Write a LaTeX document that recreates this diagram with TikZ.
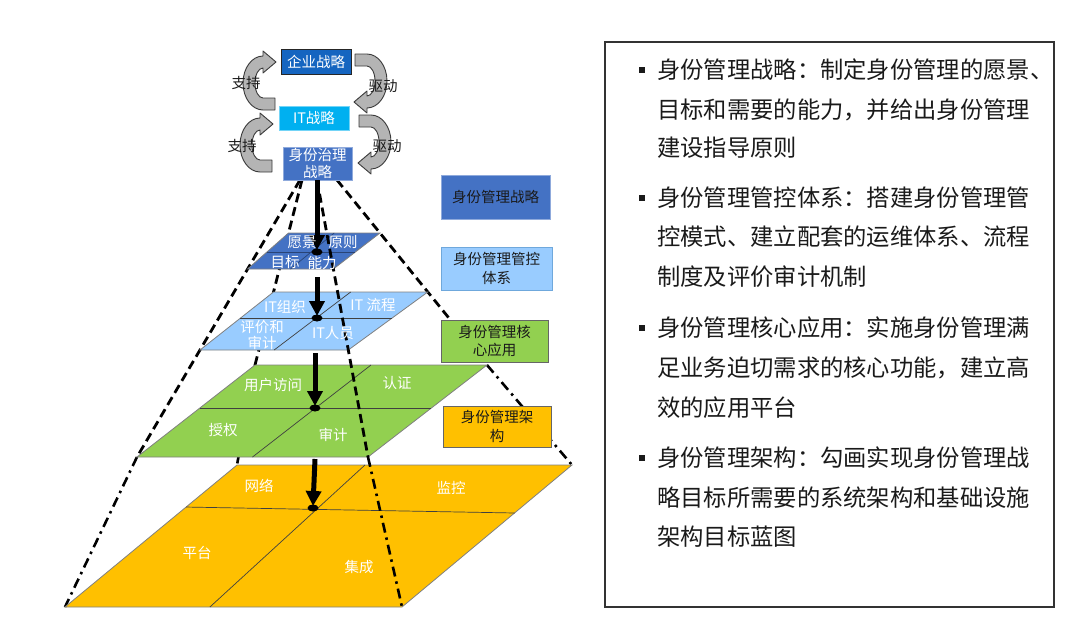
\documentclass[tikz,border=0pt]{standalone}
\usepackage{fontspec}
\setmainfont{Noto Sans CJK SC}
\usetikzlibrary{arrows.meta,calc}
\definecolor{entblue}{HTML}{1565C0}
\definecolor{itcyan}{HTML}{00B0F0}
\definecolor{idblue}{HTML}{4472C4}
\definecolor{idborder}{HTML}{8FAADC}
\definecolor{lightlayer}{HTML}{99CCFF}
\definecolor{lightborder}{HTML}{6FA8DC}
\definecolor{greenlayer}{HTML}{92D050}
\definecolor{yellowlayer}{HTML}{FFC000}
\definecolor{arrowgray}{HTML}{B4B4B4}
\definecolor{arrowedge}{HTML}{3A3A3A}
\definecolor{textdark}{HTML}{1A1A1A}
\begin{document}
\begin{tikzpicture}[x=1pt,y=-1pt,
  every node/.style={inner sep=0pt},
  lbl/.style={font=\fontsize{14.5}{16.5}\selectfont, text=white, align=center},
  topbox/.style={minimum width=70pt, minimum height=25pt, font=\fontsize{14.5}{17}\selectfont, text=white, align=center, line width=0.8pt},
  legendbox/.style={minimum width=109pt, minimum height=43pt, font=\fontsize{14.5}{18.5}\selectfont, text=textdark, align=center, line width=0.8pt},
  layer/.style={draw=black!50, line width=0.8pt},
  divider/.style={draw=black!75, line width=0.7pt},
  edgedash/.style={line width=2.8pt, dash pattern=on 9pt off 5pt},
  edgedashdot/.style={line width=2.6pt, dash pattern=on 10pt off 5pt on 2.5pt off 5pt},
  bigarrow/.style={line width=5pt, -{Triangle[length=15pt,width=15pt]}},
  curvefill/.style={fill=arrowgray, draw=arrowedge, line width=0.9pt, line join=round},
  sidelbl/.style={font=\fontsize{14.5}{17}\selectfont, text=textdark},
  bodyline/.style={font=\fontsize{23.3}{28}\selectfont, text=textdark, anchor=base west},
  bulletsq/.style={fill=textdark, minimum size=5.5pt},
  curvedarrow/.pic={
    \path[curvefill] (12,27) -- (0,27) .. controls (-11,27) and (-20,15) .. (-20,0)
      .. controls (-20,-15) and (-11,-27) .. (0,-27) -- (0,-32) -- (13,-21) -- (0,-10) -- (0,-15)
      .. controls (-4.4,-15) and (-8,-8.3) .. (-8,0) .. controls (-8,8.3) and (-4.4,15) .. (0,15)
      -- (12,15) -- cycle;
  }
]
\useasboundingbox (0,0) rectangle (1080,622);

% ---------- key points ----------
\coordinate (a1) at (300,180);
\coordinate (a2) at (302,180);
\coordinate (a3) at (317,180);
\coordinate (a4) at (337,180);
% dark blue layer
\coordinate (d1) at (288.5,233); \coordinate (d2) at (380,233);
\coordinate (d3) at (333.4,269); \coordinate (d4) at (247.6,269);
% light blue layer
\coordinate (l1) at (273.5,292); \coordinate (l2) at (427.8,292);
\coordinate (l3) at (348.3,350); \coordinate (l4) at (200,350);
% green layer
\coordinate (g1) at (255,365); \coordinate (g2) at (487,365);
\coordinate (g3) at (368,457); \coordinate (g4) at (137,457);
% yellow layer
\coordinate (y1) at (237,465); \coordinate (y2) at (572,465);
\coordinate (y3) at (402,607); \coordinate (y4) at (65,607);
% layer centres
\coordinate (c1) at (317,252);
\coordinate (c2) at (317,318);
\coordinate (c3) at (315,408);
\coordinate (c4) at (313,508);

% ---------- back edges ----------
\draw[edgedash] (a2) -- (g1);
\draw[edgedashdot] (g1) -- (y1);
\draw[edgedash] (a1) -- (g4);
\draw[edgedashdot] (g4) -- (y4);
\draw[edgedash] (a4) -- (g2);
\draw[edgedashdot] (g2) -- (y2);

% ---------- layers ----------
\filldraw[layer, fill=yellowlayer] (y1) -- (y2) -- (y3) -- (y4) -- cycle;
\draw[divider] ($(y1)!0.296!(y4)$) -- ($(y2)!0.338!(y3)$);
\draw[divider] ($(y1)!0.382!(y2)$) -- ($(y4)!0.43!(y3)$);

\filldraw[layer, fill=greenlayer] (g1) -- (g2) -- (g3) -- (g4) -- cycle;
\draw[divider] ($(g1)!0.467!(g4)$) -- ($(g2)!0.467!(g3)$);
\draw[divider] ($(g1)!0.5!(g2)$) -- ($(g4)!0.5!(g3)$);

\filldraw[layer, fill=lightlayer] (l1) -- (l2) -- (l3) -- (l4) -- cycle;
\draw[divider] ($(l1)!0.45!(l4)$) -- ($(l2)!0.45!(l3)$);
\draw[divider] ($(l1)!0.5!(l2)$) -- ($(l4)!0.5!(l3)$);

\filldraw[layer, fill=idblue] (d1) -- (d2) -- (d3) -- (d4) -- cycle;
\draw[divider, draw=idblue!60!black] ($(d1)!0.53!(d4)$) -- ($(d2)!0.53!(d3)$);
\draw[divider, draw=idblue!60!black] ($(d1)!0.5!(d2)$) -- ($(d4)!0.5!(d3)$);

% ---------- front edges ----------
\draw[edgedash] (a3) -- (g3);
\draw[edgedashdot] (g3) -- (y3);

% ---------- legend boxes ----------
\node[legendbox, fill=idblue, draw=idborder, minimum height=44pt] (lg1) at (495.5,197) {身份管理战略};
\node[legendbox, fill=lightlayer, draw=lightborder, minimum width=111pt] (lg2) at (496.5,268.5) {身份管理管控\\体系};
\node[legendbox, fill=greenlayer, draw=black!60, minimum width=107pt, minimum height=42pt] (lg3) at (494.5,341) {身份管理核\\心应用};
\node[legendbox, fill=yellowlayer, draw=black!60, minimum width=108pt, minimum height=41pt] (lg4) at (497,426.5) {身份管理架\\构};

% ---------- top strategy chain ----------
\pic at (263,83) {curvedarrow};
\pic at (260,145) {curvedarrow};
\pic[rotate=180] at (367,81) {curvedarrow};
\pic[rotate=180] at (371,142) {curvedarrow};

\node[topbox, fill=entblue, draw=black!85] (ent) at (316,61.5) {企业战略};
\node[topbox, fill=itcyan, draw=itcyan!55!white, minimum height=24pt] (itb) at (314,118) {IT战略};
\node[topbox, fill=idblue, draw=idborder, minimum width=69pt, minimum height=33pt] (idg) at (317.5,163.5) {身份治理\\战略};

\node[sidelbl] (zc1) at (246,83) {支持};
\node[sidelbl] (zc2) at (242,146) {支持};
\node[sidelbl] (qd1) at (383,86) {驱动};
\node[sidelbl] (qd2) at (387,146) {驱动};

% ---------- vertical arrows ----------
\coordinate (s2) at (317,277);
\coordinate (s3) at (315,353);
\coordinate (s4) at (315,459);
\draw[bigarrow] (idg.south -| c1) -- ($(c1)+(0,-2)$);
\draw[bigarrow] (s2) -- ($(c2)+(0,-2)$);
\draw[bigarrow] (s3) -- ($(c3)+(0,-2)$);
\draw[bigarrow] (s4) -- ($(c4)+(0,-2)$);
\fill (c1) ellipse [x radius=5.5, y radius=3.5];
\fill (c2) ellipse [x radius=5.5, y radius=3.5];
\fill (c3) ellipse [x radius=5.5, y radius=3.5];
\fill (c4) ellipse [x radius=5.5, y radius=3.5];

% ---------- layer labels ----------
\node[lbl] (t11) at (302,242) {愿景};
\node[lbl] (t12) at (343,242) {原则};
\node[lbl] (t13) at (285,262) {目标};
\node[lbl] (t14) at (322,263) {能力};

\node[lbl] (t21) at (285,307) {IT组织};
\node[lbl] (t22) at (373,305) {IT 流程};
\node[lbl] (t23) at (262,335) {评价和\\审计};
\node[lbl] (t24) at (333,333) {IT人员};

\node[lbl] (t31) at (273,385) {用户访问};
\node[lbl] (t32) at (397,383) {认证};
\node[lbl] (t33) at (223,430) {授权};
\node[lbl] (t34) at (333,435) {审计};

\node[lbl] (t41) at (259,486) {网络};
\node[lbl] (t42) at (451,488) {监控};
\node[lbl] (t43) at (197,553) {平台};
\node[lbl] (t44) at (359,567) {集成};

% ---------- right panel ----------
\node[draw=black!80, line width=1.2pt, minimum width=449pt, minimum height=565pt] (panel) at (829.5,324.5) {};

\node[bulletsq] (q1) at (642,70) {};
\node[bulletsq] (q2) at (642,198) {};
\node[bulletsq] (q3) at (642,328) {};
\node[bulletsq] (q4) at (642,458) {};

\node[bodyline] (b1a) at (657,78.7) {身份管理战略：制定身份管理的愿景、};
\node[bodyline] (b1b) at (657,118.7) {目标和需要的能力，并给出身份管理};
\node[bodyline] (b1c) at (657,156.7) {建设指导原则};

\node[bodyline] (b2a) at (657,206.7) {身份管理管控体系：搭建身份管理管};
\node[bodyline] (b2b) at (657,245.7) {控模式、建立配套的运维体系、流程};
\node[bodyline] (b2c) at (657,285.7) {制度及评价审计机制};

\node[bodyline] (b3a) at (657,336.7) {身份管理核心应用：实施身份管理满};
\node[bodyline] (b3b) at (657,376.7) {足业务迫切需求的核心功能，建立高};
\node[bodyline] (b3c) at (657,416.7) {效的应用平台};

\node[bodyline] (b4a) at (657,466.7) {身份管理架构：勾画实现身份管理战};
\node[bodyline] (b4b) at (657,506.7) {略目标所需要的系统架构和基础设施};
\node[bodyline] (b4c) at (657,545.7) {架构目标蓝图};
\end{tikzpicture}
\end{document}
